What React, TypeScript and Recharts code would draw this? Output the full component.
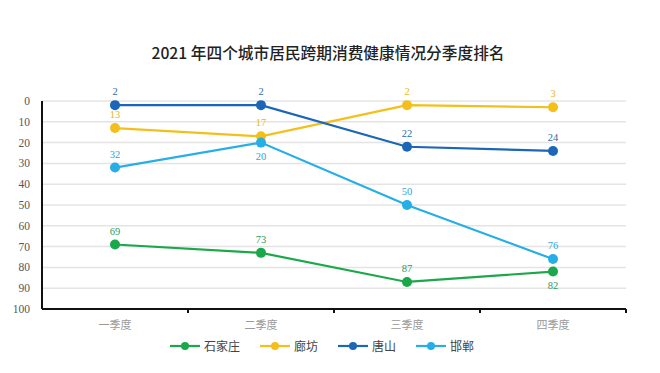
import { LineChart, Line, XAxis, YAxis, CartesianGrid } from "recharts";

const quarters = ["一季度", "二季度", "三季度", "四季度"];
const shijiazhuang = [69, 73, 87, 82];
const langfang = [13, 17, 2, 3];
const tangshan = [2, 2, 22, 24];
const handan = [32, 20, 50, 76];
const yTicks = [0, 10, 20, 30, 40, 50, 60, 70, 80, 90, 100];

const SERIES = [
  { key: "石家庄", values: shijiazhuang, color: "#1aa84a", labelColor: "#2a9d5a", below: [3] },
  { key: "廊坊", values: langfang, color: "#f4bf1b", labelColor: "#e8b520", below: [] as number[] },
  { key: "唐山", values: tangshan, color: "#1c66b8", labelColor: "#2f6aa8", below: [] as number[] },
  { key: "邯郸", values: handan, color: "#27aee6", labelColor: "#2aa5d8", below: [1] },
];

const data = quarters.map((q, i) => {
  const row: Record<string, string | number> = { q };
  SERIES.forEach((s) => (row[s.key] = s.values[i]));
  return row;
});

const serif = "Liberation Serif, DejaVu Serif, serif";
const cjk = "'Noto Sans CJK SC', sans-serif";

// tick mark sits on the right edge of each band
function XTick(props: any) {
  const { x, y, payload } = props;
  const off = payload.offset || 73;
  return (
    <g>
      <line x1={x + off} x2={x + off} y1={y - 4} y2={y - 8} stroke="#111" strokeWidth={2} />
      <text x={x} y={y + 12} textAnchor="middle" fill="#9a9a9a" fontSize={11} fontFamily={cjk}>
        {payload.value}
      </text>
    </g>
  );
}

function makeLabel(color: string, below: number[]) {
  return (p: any) => {
    const isBelow = below.includes(p.index);
    return (
      <text
        key={p.index}
        x={p.x}
        y={isBelow ? p.y + 17 : p.y - 10}
        textAnchor="middle"
        fill={color}
        fontSize={10.5}
        style={{ fontFamily: serif }}
      >
        {p.value}
      </text>
    );
  };
}

export default function App() {
  return (
    <div style={{ position: "absolute", left: 0, top: 0, width: 660, height: 373, background: "#fff" }}>
      <div
        style={{
          position: "absolute",
          top: 41,
          left: 0,
          width: 656,
          textAlign: "center",
          fontFamily: cjk,
          fontSize: 15.7,
          fontWeight: 500,
          color: "#222",
        }}
      >
        2021 年四个城市居民跨期消费健康情况分季度排名
      </div>
      <LineChart
        width={660}
        height={373}
        data={data}
        margin={{ top: 101, right: 34, left: 12, bottom: 34 }}
      >
        <CartesianGrid vertical={false} stroke="#e4e4e4" strokeWidth={1.5} />
        <XAxis
          dataKey="q"
          scale="band"
          height={30}
          axisLine={{ stroke: "#111", strokeWidth: 2 }}
          tickLine={false}
          tick={<XTick />}
        />
        <YAxis
          width={30}
          reversed
          domain={[0, 100]}
          ticks={yTicks}
          interval={0}
          axisLine={{ stroke: "#111", strokeWidth: 2 }}
          tickLine={false}
          tick={{ fill: "#555", fontSize: 11.5, style: { fontFamily: serif } }}
          tickMargin={6}
        />
        {SERIES.map((s) => (
          <Line
            key={s.key}
            dataKey={s.key}
            type="linear"
            stroke={s.color}
            strokeWidth={2.2}
            dot={{ r: 5, fill: s.color, stroke: s.color, strokeWidth: 0 }}
            activeDot={false}
            isAnimationActive={false}
            label={makeLabel(s.labelColor, s.below)}
          />
        ))}
      </LineChart>
      <div
        style={{
          position: "absolute",
          top: 337,
          left: 0,
          width: 644,
          display: "flex",
          justifyContent: "center",
          gap: 20,
          fontFamily: cjk,
          fontSize: 12,
          color: "#444",
        }}
      >
        {SERIES.map((s) => (
          <div key={s.key} style={{ display: "flex", alignItems: "center", gap: 4 }}>
            <svg width={30} height={12}>
              <line x1={0} x2={30} y1={6} y2={6} stroke={s.color} strokeWidth={2.2} />
              <circle cx={15} cy={6} r={4} fill={s.color} />
            </svg>
            <span>{s.key}</span>
          </div>
        ))}
      </div>
    </div>
  );
}
